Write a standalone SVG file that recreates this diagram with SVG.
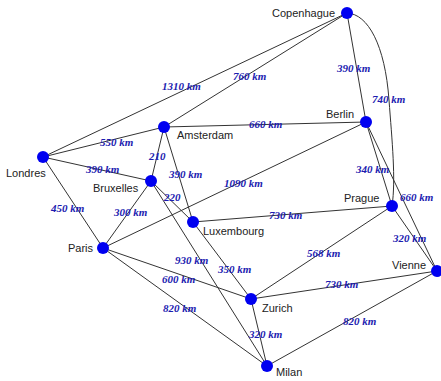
<svg xmlns="http://www.w3.org/2000/svg" width="441" height="381" viewBox="0 0 441 381">
<style>
.e{stroke:#333;stroke-width:1;fill:none}
.n{fill:#0000f0}
.t{font-family:"Liberation Sans",Arial,sans-serif;font-size:11px;fill:#222}
.d{font-family:"Liberation Serif","Times New Roman",serif;font-size:11px;font-weight:bold;font-style:italic;fill:#1c1cb0}
</style>
<rect width="441" height="381" fill="#fff"/>
<g id="connectors">
<line class="e" x1="43" y1="157" x2="347" y2="13"/>
<line class="e" x1="164" y1="127" x2="347" y2="13"/>
<line class="e" x1="347" y1="13" x2="366" y2="122"/>
<path class="e" d="M347,13 C368,14 385,45 389,100 C392,140 396,180 392,206"/>
<line class="e" x1="43" y1="157" x2="164" y2="127"/>
<line class="e" x1="43" y1="157" x2="151" y2="181"/>
<line class="e" x1="43" y1="157" x2="103" y2="248"/>
<line class="e" x1="164" y1="127" x2="366" y2="122"/>
<line class="e" x1="164" y1="127" x2="151" y2="181"/>
<line class="e" x1="164" y1="127" x2="193" y2="222"/>
<line class="e" x1="151" y1="181" x2="193" y2="222"/>
<line class="e" x1="151" y1="181" x2="103" y2="248"/>
<line class="e" x1="151" y1="181" x2="267" y2="366"/>
<line class="e" x1="103" y1="248" x2="366" y2="122"/>
<line class="e" x1="103" y1="248" x2="251" y2="299"/>
<line class="e" x1="103" y1="248" x2="267" y2="366"/>
<line class="e" x1="193" y1="222" x2="392" y2="206"/>
<line class="e" x1="193" y1="222" x2="251" y2="299"/>
<line class="e" x1="366" y1="122" x2="392" y2="206"/>
<line class="e" x1="366" y1="122" x2="437" y2="271"/>
<line class="e" x1="392" y1="206" x2="437" y2="271"/>
<line class="e" x1="392" y1="206" x2="251" y2="299"/>
<line class="e" x1="251" y1="299" x2="437" y2="271"/>
<line class="e" x1="251" y1="299" x2="267" y2="366"/>
<line class="e" x1="267" y1="366" x2="437" y2="271"/>
</g>
<g id="labels">
<text class="d" x="162" y="90">1310 km</text>
<text class="d" x="233" y="80">760 km</text>
<text class="d" x="337" y="72">390 km</text>
<text class="d" x="372" y="103">740 km</text>
<text class="d" x="249" y="128">660 km</text>
<text class="d" x="100" y="146">550 km</text>
<text class="d" x="149" y="160">210</text>
<text class="d" x="86" y="173">390 km</text>
<text class="d" x="169" y="178">390 km</text>
<text class="d" x="164" y="201">220</text>
<text class="d" x="51" y="212">450 km</text>
<text class="d" x="114" y="216">300 km</text>
<text class="d" x="224" y="187">1090 km</text>
<text class="d" x="356" y="173">340 km</text>
<text class="d" x="400" y="201">660 km</text>
<text class="d" x="269" y="219">730 km</text>
<text class="d" x="393" y="242">320 km</text>
<text class="d" x="307" y="257">568 km</text>
<text class="d" x="175" y="264">930 km</text>
<text class="d" x="218" y="273">350 km</text>
<text class="d" x="162" y="283">600 km</text>
<text class="d" x="163" y="312">820 km</text>
<text class="d" x="249" y="338">320 km</text>
<text class="d" x="325" y="288">730 km</text>
<text class="d" x="343" y="325">820 km</text>
</g>
<g id="copenhague"><circle class="n" cx="347" cy="13" r="6"/><text class="t" x="272" y="17">Copenhague</text></g>
<g id="berlin"><circle class="n" cx="366" cy="122" r="6"/><text class="t" x="326" y="118">Berlin</text></g>
<g id="amsterdam"><circle class="n" cx="164" cy="127" r="6"/><text class="t" x="177" y="139">Amsterdam</text></g>
<g id="londres"><circle class="n" cx="43" cy="157" r="6"/><text class="t" x="6" y="177">Londres</text></g>
<g id="bruxelles"><circle class="n" cx="151" cy="181" r="6"/><text class="t" x="93" y="192">Bruxelles</text></g>
<g id="luxembourg"><circle class="n" cx="193" cy="222" r="6"/><text class="t" x="203" y="235">Luxembourg</text></g>
<g id="prague"><circle class="n" cx="392" cy="206" r="6"/><text class="t" x="344" y="202">Prague</text></g>
<g id="paris"><circle class="n" cx="103" cy="248" r="6"/><text class="t" x="68" y="252">Paris</text></g>
<g id="vienne"><circle class="n" cx="437" cy="271" r="6"/><text class="t" x="392" y="269">Vienne</text></g>
<g id="zurich"><circle class="n" cx="251" cy="299" r="6"/><text class="t" x="262" y="312">Zurich</text></g>
<g id="milan"><circle class="n" cx="267" cy="366" r="6"/><text class="t" x="276" y="376">Milan</text></g>
</svg>
